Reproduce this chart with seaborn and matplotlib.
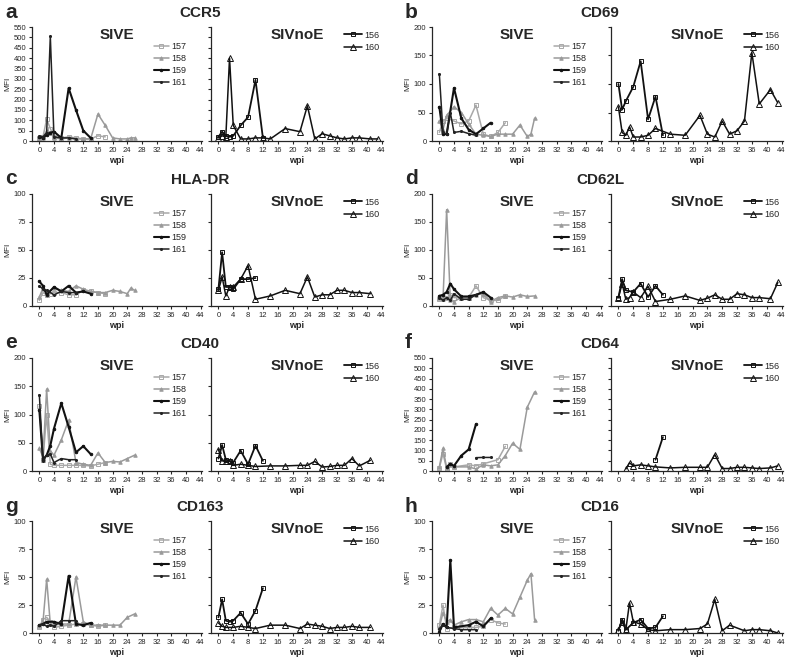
import matplotlib
matplotlib.use("Agg")
import matplotlib.pyplot as plt
import seaborn as sns

sns.set_style("ticks")
plt.rcParams["font.family"] = ["Liberation Sans", "DejaVu Sans"]

# Data: each series is (wpi, MFI)

# a CCR5
ccr5_sive = {
    "157": ([0, 1, 2, 3, 4, 6, 8, 10, 12, 14, 16, 18], [15, 20, 105, 60, 20, 15, 20, 15, 10, 10, 25, 20]),
    "158": ([0, 1, 2, 3, 4, 6, 8, 10, 12, 14, 16, 18, 20, 22, 24, 25, 26], [10, 15, 50, 40, 15, 10, 15, 10, 10, 10, 130, 75, 15, 10, 10, 15, 15]),
    "159": ([0, 1, 2, 3, 4, 6, 8, 10, 12, 14], [20, 15, 30, 40, 45, 15, 255, 150, 50, 15]),
    "161": ([0, 1, 2, 3, 4, 6, 8, 10], [25, 20, 40, 505, 20, 15, 15, 10]),
}
ccr5_noe = {
    "156": ([0, 1, 2, 3, 4, 6, 8, 10, 12], [20, 45, 25, 20, 25, 75, 115, 295, 15]),
    "160": ([0, 1, 2, 3, 4, 6, 8, 10, 12, 14, 18, 22, 24, 26, 28, 30, 32, 34, 36, 38, 41, 43],
            [15, 25, 20, 400, 75, 10, 10, 15, 15, 10, 60, 45, 170, 10, 35, 25, 15, 10, 15, 15, 10, 10]),
}

# b CD69
cd69_sive = {
    "157": ([0, 1, 2, 4, 6, 8, 10, 12, 14, 16, 18], [15, 35, 40, 35, 30, 35, 63, 12, 8, 15, 32]),
    "158": ([0, 1, 2, 4, 6, 8, 10, 12, 14, 16, 18, 20, 22, 24, 25, 26], [35, 20, 45, 60, 50, 30, 12, 10, 8, 12, 12, 12, 28, 8, 12, 40]),
    "159": ([0, 1, 2, 4, 6, 8, 10, 12, 14], [60, 12, 12, 93, 40, 20, 12, 22, 32]),
    "161": ([0, 1, 2, 3, 4, 6, 8, 10], [118, 15, 12, 50, 15, 17, 13, 10]),
}
cd69_noe = {
    "156": ([0, 1, 2, 4, 6, 8, 10, 12], [100, 55, 70, 95, 140, 38, 78, 10]),
    "160": ([0, 1, 2, 3, 4, 6, 8, 10, 14, 18, 22, 24, 26, 28, 30, 32, 34, 36, 38, 41, 43],
            [60, 15, 10, 25, 7, 7, 10, 22, 12, 10, 45, 12, 7, 35, 12, 18, 35, 155, 65, 90, 67]),
}

# c HLA-DR
hladr_sive = {
    "157": ([0, 1, 2, 3, 4, 6, 8, 10, 12, 14, 16, 18], [5, 12, 10, 11, 12, 12, 10, 10, 14, 13, 12, 11]),
    "158": ([0, 1, 2, 4, 6, 8, 10, 12, 14, 16, 18, 20, 22, 24, 25, 26], [8, 16, 12, 16, 14, 13, 18, 15, 13, 12, 12, 14, 13, 11, 16, 14]),
    "159": ([0, 1, 2, 4, 6, 8, 10, 12, 14], [22, 18, 10, 17, 13, 18, 12, 13, 11]),
    "161": ([0, 1, 2, 4, 6, 8, 10], [18, 15, 14, 10, 13, 12, 12]),
}
hladr_noe = {
    "156": ([0, 1, 2, 3, 4, 6, 8, 10], [15, 48, 17, 17, 15, 24, 24, 25]),
    "160": ([0, 1, 2, 3, 4, 6, 8, 10, 14, 18, 22, 24, 26, 28, 30, 32, 34, 36, 38, 41],
            [14, 26, 9, 17, 17, 24, 36, 6, 9, 14, 11, 26, 8, 10, 10, 14, 14, 12, 12, 11]),
}

# d CD62L
cd62l_sive = {
    "157": ([0, 1, 2, 3, 4, 6, 8, 10, 12, 14, 16, 18], [12, 15, 15, 20, 15, 15, 15, 36, 15, 10, 10, 18]),
    "158": ([0, 1, 2, 3, 4, 6, 8, 10, 12, 14, 16, 18, 20, 22, 24, 26], [15, 12, 172, 10, 8, 15, 15, 20, 22, 8, 15, 18, 16, 20, 17, 18]),
    "159": ([0, 1, 2, 3, 4, 6, 8, 10, 12, 14], [18, 20, 25, 40, 30, 17, 17, 20, 25, 15]),
    "161": ([0, 1, 2, 3, 4, 6, 8, 10], [15, 10, 15, 10, 22, 12, 12, 20]),
}
cd62l_noe = {
    "156": ([0, 1, 2, 4, 6, 8, 10, 12], [15, 48, 28, 25, 40, 16, 36, 20]),
    "160": ([0, 1, 2, 3, 4, 6, 8, 10, 14, 18, 22, 24, 26, 28, 30, 32, 34, 36, 38, 41, 43],
            [15, 40, 12, 15, 25, 15, 35, 8, 12, 18, 10, 14, 20, 12, 12, 22, 20, 15, 15, 13, 42]),
}

# e CD40
cd40_sive = {
    "157": ([0, 1, 2, 3, 4, 6, 8, 10, 12, 14, 16, 18], [115, 20, 100, 12, 10, 10, 10, 10, 10, 9, 12, 15]),
    "158": ([0, 1, 2, 3, 4, 6, 8, 10, 12, 14, 16, 18, 20, 22, 24, 26], [40, 25, 145, 35, 28, 55, 90, 15, 12, 10, 32, 15, 17, 16, 22, 28]),
    "159": ([0, 1, 2, 3, 4, 6, 8, 10, 12, 14], [108, 20, 28, 45, 75, 120, 78, 33, 44, 30]),
    "161": ([0, 1, 2, 3, 4, 6, 8, 10], [135, 18, 28, 30, 15, 22, 20, 20]),
}
cd40_noe = {
    "156": ([0, 1, 2, 3, 4, 6, 8, 10, 12], [22, 46, 20, 18, 15, 36, 12, 45, 18]),
    "160": ([0, 1, 2, 3, 4, 6, 8, 10, 14, 18, 22, 24, 26, 28, 30, 32, 34, 36, 38, 41],
            [38, 18, 17, 18, 10, 12, 10, 8, 9, 9, 10, 10, 17, 7, 8, 10, 10, 22, 9, 19]),
}

# f CD64
cd64_sive = {
    "157": ([0, 1, 2, 3, 4, 8, 10, 12, 16, 18], [15, 85, 10, 35, 20, 30, 25, 35, 55, 120]),
    "158": ([0, 1, 2, 3, 4, 8, 10, 12, 14, 16, 18, 20, 22, 24, 26], [20, 110, 15, 30, 20, 20, 10, 30, 25, 30, 75, 135, 105, 310, 385]),
    "159": ([2, 3, 4, 6, 8, 10], [20, 35, 25, 75, 105, 228]),
    "161": ([10, 12, 14], [65, 66, 66]),
}
cd64_noe = {
    "156": ([10, 12], [55, 165]),
    "160": ([2, 3, 4, 6, 8, 10, 14, 18, 22, 24, 26, 28, 30, 32, 34, 36, 38, 41, 43],
            [10, 40, 25, 30, 25, 20, 15, 18, 18, 18, 80, 12, 12, 18, 18, 15, 12, 15, 25]),
}

# g CD163
cd163_sive = {
    "157": ([0, 1, 2, 3, 4, 6, 8, 10, 12, 14, 16, 18], [5, 12, 14, 10, 5, 6, 7, 8, 8, 7, 6, 7]),
    "158": ([0, 1, 2, 3, 4, 6, 8, 10, 12, 14, 16, 18, 20, 22, 24, 26], [6, 10, 48, 8, 7, 8, 8, 50, 10, 7, 7, 7, 7, 7, 14, 17]),
    "159": ([0, 1, 2, 4, 6, 8, 10, 12, 14], [7, 8, 10, 10, 8, 51, 8, 7, 9]),
    "161": ([0, 1, 2, 3, 4, 6, 8, 10], [7, 8, 6, 7, 6, 11, 11, 11]),
}
cd163_noe = {
    "156": ([0, 1, 2, 3, 4, 6, 8, 10, 12], [14, 30, 11, 10, 11, 18, 8, 20, 40]),
    "160": ([0, 1, 2, 4, 6, 8, 10, 14, 18, 22, 24, 26, 28, 30, 32, 34, 36, 38, 41],
            [9, 6, 5, 5, 6, 5, 4, 7, 7, 4, 8, 7, 6, 4, 5, 5, 6, 5, 5]),
}

# h CD16
cd16_sive = {
    "157": ([0, 1, 2, 4, 6, 8, 10, 12, 14, 16, 18], [7, 25, 4, 5, 5, 5, 5, 6, 12, 9, 8]),
    "158": ([0, 1, 2, 3, 4, 6, 8, 10, 12, 14, 16, 18, 20, 22, 24, 25, 26], [5, 18, 10, 12, 7, 10, 12, 12, 10, 22, 16, 22, 17, 32, 47, 53, 12]),
    "159": ([0, 1, 2, 3, 4, 8, 10, 12, 14], [1, 8, 5, 65, 5, 7, 10, 6, 13]),
    "161": ([0, 1, 2, 4, 6, 8, 10], [4, 7, 5, 4, 3, 3, 3]),
}
cd16_noe = {
    "156": ([0, 1, 2, 4, 6, 8, 10, 12], [2, 12, 3, 9, 12, 4, 5, 15]),
    "160": ([0, 1, 2, 3, 4, 6, 8, 10, 14, 18, 22, 24, 26, 28, 30, 34, 36, 38, 41, 43],
            [3, 10, 3, 27, 10, 8, 3, 2, 3, 3, 4, 8, 30, 2, 7, 2, 3, 3, 2, 0]),
}

panels = [
    ("a", "CCR5", ccr5_sive, ccr5_noe, 550, 50),
    ("b", "CD69", cd69_sive, cd69_noe, 200, 50),
    ("c", "HLA-DR", hladr_sive, hladr_noe, 100, 25),
    ("d", "CD62L", cd62l_sive, cd62l_noe, 200, 50),
    ("e", "CD40", cd40_sive, cd40_noe, 200, 50),
    ("f", "CD64", cd64_sive, cd64_noe, 550, 50),
    ("g", "CD163", cd163_sive, cd163_noe, 100, 25),
    ("h", "CD16", cd16_sive, cd16_noe, 100, 25),
]

# line style for each animal
styles = {
    "157": dict(color="#a8a8a8", marker="s", mfc="none", ms=3, lw=1.1),
    "158": dict(color="#9a9a9a", marker="^", mfc="#9a9a9a", ms=2.5, lw=1.1),
    "159": dict(color="#111111", marker="o", mfc="#111111", ms=1.8, lw=1.5),
    "161": dict(color="#222222", marker="o", mfc="#222222", ms=1.5, lw=1.1),
    "156": dict(color="#111111", marker="s", mfc="none", ms=3.5, lw=1.3),
    "160": dict(color="#111111", marker="^", mfc="none", ms=4, lw=1.1),
}

W, H = 800, 664
fig = plt.figure(figsize=(8, 6.64), dpi=100)

rows_px = [(27, 141), (194, 306), (358, 471), (521, 633)]


def add_ax(x0, x1, top, bottom):
    return fig.add_axes([x0 / W, 1 - bottom / H, (x1 - x0) / W, (bottom - top) / H])


def draw_series(ax, data):
    for name, (xs, ys) in data.items():
        st = styles[name]
        sns.lineplot(x=xs, y=ys, ax=ax, color=st["color"], linewidth=st["lw"],
                     marker=st["marker"], markersize=st["ms"], markerfacecolor=st["mfc"],
                     markeredgecolor=st["color"], markeredgewidth=0.7,
                     sort=False, estimator=None, label=name)


for i, (letter, title, sive, noe, ymax, ystep) in enumerate(panels):
    row, col = divmod(i, 2)
    top, bottom = rows_px[row]
    off = 400 * col
    ax_l = add_ax(32 + off, 202 + off, top, bottom)
    ax_r = add_ax(211 + off, 383 + off, top, bottom)

    draw_series(ax_l, sive)
    draw_series(ax_r, noe)

    for ax in (ax_l, ax_r):
        ax.set_xlim(-2, 44.4)
        ax.set_ylim(0, ymax)
        ax.set_xticks(range(0, 45, 4))
        ax.set_yticks(range(0, ymax + 1, ystep))
        ax.tick_params(labelsize=5.5, length=2.5, width=0.8, pad=1.5)
        ax.set_xlabel("wpi", fontsize=6.5, fontweight="bold", labelpad=2)
        for s in ("top", "right"):
            ax.spines[s].set_visible(False)
        for s in ("left", "bottom"):
            ax.spines[s].set_linewidth(0.9)
    ax_l.set_ylabel("MFI", fontsize=6, labelpad=2)
    ax_r.set_ylabel("")
    ax_r.set_yticklabels([])

    ax_l.text(0.5, 0.93, "SIVE", transform=ax_l.transAxes, ha="center", va="center",
              fontsize=11, fontweight="bold")
    ax_r.text(0.5, 0.93, "SIVnoE", transform=ax_r.transAxes, ha="center", va="center",
              fontsize=11, fontweight="bold")

    ax_l.legend(loc="upper right", bbox_to_anchor=(0.93, 0.9), frameon=False,
                fontsize=6.5, handlelength=1.6, handletextpad=0.3, labelspacing=0.35,
                borderaxespad=0)
    ax_r.legend(loc="upper right", bbox_to_anchor=(1.0, 1.0), frameon=False,
                fontsize=6.5, handlelength=2.0, handletextpad=0.3, labelspacing=0.35,
                borderaxespad=0)

    fig.text((5 + off) / W, 1 - (top - 15) / H, letter, fontsize=15, fontweight="bold",
             ha="left", va="center")
    fig.text((200 + off) / W, 1 - (top - 14) / H, title, fontsize=11, fontweight="bold",
             ha="center", va="center")

fig.savefig("out.png", dpi=100)
